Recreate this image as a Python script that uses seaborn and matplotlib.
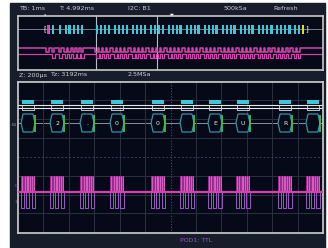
import numpy as np
import matplotlib
matplotlib.use('Agg')
import matplotlib.pyplot as plt
import seaborn as sns
from matplotlib.patches import Rectangle, Polygon

# overview (top panel), times in ms
ov_bytes = [1.15, 1.38, 1.57, 1.70, 1.84, 1.97, 2.10,
            2.59, 2.72, 2.85, 2.98, 3.18, 3.31, 3.44, 3.57,
            3.77, 3.90, 4.03, 4.16, 4.36, 4.49, 4.62, 4.75,
            4.95, 5.08, 5.21, 5.34, 5.54, 5.67, 5.80, 5.93,
            6.13, 6.26, 6.39, 6.52, 6.72, 6.85, 6.98, 7.11,
            7.31, 7.44, 7.57, 7.70, 7.90, 8.03, 8.16, 8.30,
            8.49, 8.62, 8.75, 8.89, 9.08, 9.21]
ov_start = 0.98
ov_stop = 9.34
ov_open = 0.89
ov_close = 9.48
zoom_win = [2.56, 4.56]

# zoomed (bottom panel), times in us
chars_us = [79, 307, 543, 779, 1102, 1330, 1550, 1770, 2101, 2321]
chars = ['', '2', '.', '0', '0', '', 'E', 'U', 'R', '']
byte_w = 110
# low intervals of the second trace inside each byte (fraction of byte width)
sda_low = [(-0.50, -0.28), (-0.12, 0.08), (0.25, 0.50)]
# bright streaks inside the clock bursts
streaks = [-0.4, -0.25, -0.1, 0.0, 0.12, 0.3, 0.42]

header = ['TB: 1ms', 'T: 4.992ms', 'I2C: B1', '500kSa', 'Refresh']
header_x = [19, 59, 128, 223, 273]
sub = ['Z: 200\u00b5s', 'Tz: 3192ms', '2.5MSa']
sub_x = [19, 50, 128]

W, H = 328, 248
PANEL = '#060918'
SCREEN = '#181d2b'
TXT = '#c9cdd6'
CYAN = '#3ec6d6'
PINK = '#d443ad'
MAG = '#9a2c8f'
VIOL = '#9a5cc2'
GRID = '#2b3142'

sns.set_style('dark')
plt.rcParams['font.family'] = ['DejaVu Sans']


def box(x0, y0, x1, y1):
    return [x0 / W, 1 - y1 / H, (x1 - x0) / W, (y1 - y0) / H]


def steps(lows, x0, x1, hi, lo):
    xs, ys = [x0], [hi]
    for a, b in lows:
        xs += [a, b]
        ys += [lo, hi]
    xs.append(x1)
    ys.append(hi)
    return xs, ys


fig = plt.figure(figsize=(W / 100, H / 100), dpi=100, facecolor='white')
bg = fig.add_axes([0, 0, 1, 1])
bg.set_xlim(0, W)
bg.set_ylim(H, 0)
bg.axis('off')
bg.add_patch(Rectangle((10, 3), 315, 246, color=SCREEN))
for s, x in zip(header, header_x):
    bg.text(x, 9, s, color=TXT, fontsize=4.6, va='center')
for s, x in zip(sub, sub_x):
    bg.text(x, 75, s, color=TXT, fontsize=4.6, va='center')
bg.text(180, 241, 'POD1: TTL', color=VIOL, fontsize=4.4, va='center')
bg.text(12, 125, 'B1', color='#8a90a0', fontsize=3, va='center')

# ---- overview panel ----
top = fig.add_axes(box(18, 16, 323, 70))
top.set_facecolor(PANEL)
top.set_xlim(0, 10)
top.set_ylim(54, 0)
top.set_xticks([])
top.set_yticks([])
for sp in top.spines.values():
    sp.set_color('#c8c8c8')
    sp.set_linewidth(1.2)
top.axhline(13, color='#8a909c', lw=0.6)
for t in zoom_win:
    top.axvline(t, color='#b8bcc4', lw=0.8)

top.bar(ov_bytes, height=9, bottom=8.5, width=0.09, color=CYAN, lw=0, zorder=3)
top.bar([ov_start], height=9, bottom=8.5, width=0.05, color=PINK, lw=0, zorder=3)
top.bar([ov_start + 0.06], height=9, bottom=8.5, width=0.03, color='#4cc04c',
        lw=0, zorder=3)
top.bar([ov_stop], height=9, bottom=8.5, width=0.08, color='#e8d820', lw=0,
        zorder=3)
top.text(ov_open, 13, '[', color='white', fontsize=5, ha='center', va='center')
top.text(ov_close, 13, ']', color='white', fontsize=5, ha='center', va='center')

lows1 = [(t - 0.05, t + 0.04) for t in [ov_start] + ov_bytes]
lows2 = [(t - 0.03, t + 0.05) for t in ov_bytes]
x1, y1 = steps(lows1, 0, 10, 32, 36)
x2, y2 = steps(lows2, 0, 10, 38, 42)
sns.lineplot(x=x1, y=y1, ax=top, color=PINK, lw=1.1, estimator=None,
             sort=False, drawstyle='steps-post')
sns.lineplot(x=x2, y=y2, ax=top, color=PINK, lw=0.9, estimator=None,
             sort=False, drawstyle='steps-post')

# ---- zoom panel ----
ax = fig.add_axes(box(18, 82, 323, 233))
ax.set_facecolor(PANEL)
ax.set_xlim(0, 2400)
ax.set_ylim(151, 0)
ax.set_xticks([])
ax.set_yticks([])
for sp in ax.spines.values():
    sp.set_color('#d0d0d0')
    sp.set_linewidth(1.2)
for gx in range(200, 2400, 200):
    if gx == 1200:
        ax.axvline(gx, color='#4a5064', lw=0.8, ls=(0, (1, 1.5)))
    else:
        ax.axvline(gx, color=GRID, lw=0.7)
for gy in [18, 37, 56, 94, 113, 131]:
    ax.axhline(gy, color=GRID, lw=0.7)
ax.axhline(75, color='#3a4052', lw=0.7, ls=(0, (2, 2)))

# bus labels and bus line
ax.bar(chars_us, height=4, bottom=18, width=byte_w * 0.9, color=CYAN, lw=0,
       zorder=3)
ax.axhline(23, color='#e8e8e8', lw=0.8, zorder=2)
ax.axhline(25.5, color='#e8e8e8', lw=0.8, zorder=2)
for c in chars_us:
    ax.add_patch(Rectangle((c - byte_w * 0.4, 23), byte_w * 0.8, 4.5, fill=False,
                           ec='#e0e0e0', lw=0.6, zorder=3))

# decoded bytes
ax.axhline(41, color='#8a909c', lw=0.7, zorder=1)
hw, sl = 55, 16
for c, s in zip(chars_us, chars):
    hexa = Polygon([(c - hw, 41), (c - hw + sl, 32), (c + hw - sl, 32),
                    (c + hw, 41), (c + hw - sl, 50), (c - hw + sl, 50)],
                   closed=True, fc=PANEL, ec='#2f93a6', lw=0.9, zorder=3)
    ax.add_patch(hexa)
    ax.vlines(c + hw, 32.5, 49.5, color='#45c045', lw=1.3, zorder=4)
    ax.text(c, 41.5, s, color='#e8e8e8', fontsize=4.5, ha='center',
            va='center', zorder=5)

# digital traces
ax.bar(chars_us, height=15, bottom=94, width=byte_w, color=MAG, lw=0, zorder=3)
for c in chars_us:
    ax.vlines([c + byte_w * f for f in streaks], 94, 109, color='#e466cc',
              lw=0.6, zorder=4)
ax.axhline(109.5, color=PINK, lw=1.6, zorder=5)
lows = [(c + byte_w * a, c + byte_w * b) for c in chars_us for a, b in sda_low]
xs, ys = steps(lows, 0, 2400, 109.5, 126)
sns.lineplot(x=xs, y=ys, ax=ax, color=VIOL, lw=0.7, estimator=None,
             sort=False, drawstyle='steps-post', zorder=4)
ax.text(-8, 104, '0', color=PINK, fontsize=3, ha='right', va='center')
ax.text(-8, 120, '1', color=VIOL, fontsize=3, ha='right', va='center')

# markers
bg.text(172, 15, '\u25bc', color='white', fontsize=3.5, ha='center', va='center')
bg.text(126, 17, '\u25aa', color='white', fontsize=2.5, ha='center', va='center')
bg.text(45, 68, '\u25b2', color='white', fontsize=3.5, ha='center', va='center')
bg.text(45, 15.5, '\u25aa', color='white', fontsize=2.5, ha='center', va='center')

fig.savefig('out.png', dpi=100, facecolor='white')
